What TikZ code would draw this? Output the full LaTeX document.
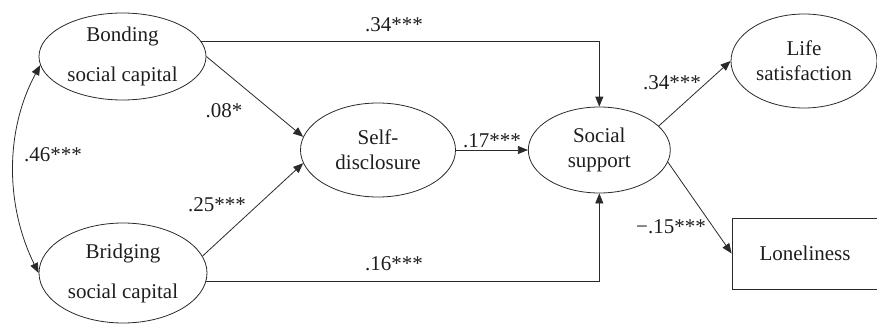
\documentclass[tikz,border=0pt]{standalone}
\usepackage{fontspec}
\setmainfont{Liberation Serif}
\usetikzlibrary{shapes.geometric, arrows.meta, positioning}
\definecolor{pline}{HTML}{2A2A2A}
\definecolor{ptext}{HTML}{1E1E1E}
\tikzset{
  latent/.style={ellipse, draw=pline, line width=0.8pt, inner sep=0pt, align=center,
                 text=ptext, font=\fontsize{21}{25}\selectfont},
  observed/.style={rectangle, draw=pline, line width=0.8pt, inner sep=0pt, align=center,
                   text=ptext, font=\fontsize{21}{25}\selectfont},
  effect/.style={-{Triangle[length=10pt, width=8pt]}, draw=pline, line width=0.8pt},
  covar/.style={{Triangle[length=10pt, width=8pt]}-{Triangle[length=10pt, width=8pt]},
                draw=pline, line width=0.8pt},
  coef/.style={inner sep=0pt, text=ptext, font=\fontsize{21}{25}\selectfont}
}

\begin{document}
\begin{tikzpicture}[x=1pt, y=-1pt]
  \useasboundingbox (0,0) rectangle (877,324);
  \clip (0,0) rectangle (877,324);
  \node[latent, minimum width=167pt, minimum height=87pt] (bond) at (122.5,56.5) {Bonding\\[15pt]social capital};
  \node[latent, minimum width=168pt, minimum height=100pt] (bridge) at (123,273) {Bridging\\[15pt]social capital};
  \node[latent, minimum width=155pt, minimum height=94pt] (self) at (378,150) {Self-\\disclosure};
  \node[latent, minimum width=142pt, minimum height=86pt, right=72pt of self] (social) {Social\\support};
  \node[latent, minimum width=146pt, minimum height=94pt] (life) at (804,61) {Life\\satisfaction};
  \node[observed, minimum width=146pt, minimum height=71pt] (lonely) at (805,253.5) {Loneliness};
  % paths
  \draw[effect] (bond.11) -| (social.north);
  \draw[effect] (bridge.-6) -| (social.south);
  \draw[effect] (bond.east) -- (self.170);
  \draw[effect] (bridge.12) -- (self.190);
  \draw[effect] (self) -- (social);
  \draw[effect] (social.22) -- (life.west);
  \draw[effect] (social.-10) -- (lonely.west);
  \draw[covar] (bond.186) .. controls (5,130) and (5,205) .. (bridge.west);
  % coefficients
  \node[coef] (c1) at (394,25) {.34***};
  \node[coef] (c2) at (224,111) {.08*};
  \node[coef] (c3) at (53,155) {.46***};
  \node[coef] (c4) at (217,205) {.25***};
  \node[coef] (c5) at (492,141) {.17***};
  \node[coef] (c6) at (394,264) {.16***};
  \node[coef] (c7) at (672,83) {.34***};
  \node[coef] (c8) at (671,227) {−.15***};
\end{tikzpicture}
\end{document}
